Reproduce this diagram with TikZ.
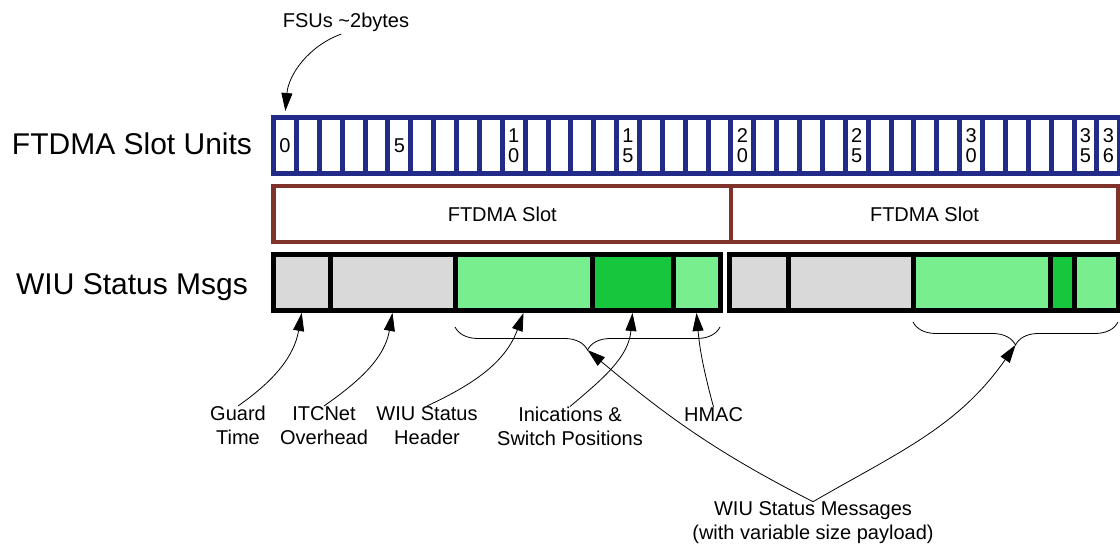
\documentclass[tikz,border=0pt]{standalone}
\usepackage{fontspec}
\setmainfont{Liberation Sans}
\usetikzlibrary{arrows.meta,decorations.pathreplacing}
\definecolor{SlotBlue}{RGB}{34,44,136}
\definecolor{SlotBrown}{RGB}{128,51,42}
\definecolor{MsgGray}{RGB}{217,217,217}
\definecolor{MsgGreen}{RGB}{120,238,143}
\definecolor{MsgDark}{RGB}{22,198,60}

\begin{document}
\begin{tikzpicture}[x=1pt,y=1pt,>={Triangle[length=18pt,width=11pt]},
unit/.style={draw=SlotBlue,line width=5pt,minimum width=22.87pt,minimum height=56pt,inner sep=0pt},
digit/.style={font=\fontsize{20}{20}\selectfont,align=center,inner sep=0pt},
slotbox/.style={draw=SlotBrown,line width=4.5pt,minimum height=56pt,inner sep=0pt,font=\fontsize{20}{24}\selectfont},
seg/.style={draw=black,line width=5pt,minimum height=56pt,inner sep=0pt},
lbl/.style={font=\fontsize{20}{24}\selectfont,align=center,inner sep=0pt,anchor=north},
rowlbl/.style={font=\fontsize{30}{36}\selectfont,inner sep=0pt,anchor=base},
arr/.style={->,line width=0.8pt},
brc/.style={decorate,decoration={brace,mirror,amplitude=23pt},line width=0.8pt}]
\useasboundingbox (0,0) rectangle (1120,548);
% slot units
\foreach \i in {0,...,36}
  \node[unit] (u\i) at ({285+22.87*\i},402.5) {};
\node[digit] (n0) at (u0) {0};
\node[digit] (n5) at (u5) {5};
\foreach \i/\a/\b in {10/1/0,15/1/5,20/2/0,25/2/5,30/3/0,35/3/5,36/3/6}
  \node[digit] (n\i) at (u\i) {\a\\\b};
% slots
\node[slotbox,minimum width=457.5pt] (slot1) at (502.25,334) {FTDMA Slot};
\node[slotbox,minimum width=387pt] (slot2) at (924.5,334) {FTDMA Slot};
% status messages
\foreach \n/\a/\b/\c in {gt1/273.5/330/MsgGray,oh1/330/455/MsgGray,hd1/455/592/MsgGreen,ind1/592/673/MsgDark,mac1/673/720/MsgGreen,
  gt2/729.5/788/MsgGray,oh2/788/913/MsgGray,hd2/913/1050/MsgGreen,ind2/1050/1074/MsgDark,mac2/1074/1118/MsgGreen}
  \node[seg,fill=\c,minimum width=\b-\a] (\n) at ({(\a+\b)/2},265.5) {};
\draw[brc] (455,221) -- (720,221);
\draw[brc] (913,226) -- (1118,226);
\coordinate (tip1) at (587.5,198);
\coordinate (tip2) at (1015.5,203);
% labels
\node[rowlbl] (units) at (132,393) {FTDMA Slot Units};
\node[rowlbl] (msgrow) at (132,253.7) {WIU Status Msgs};
\node[lbl] (fsu) at (346,534.7) {FSUs \textasciitilde2bytes};
\node[lbl] (guard) at (238,142) {Guard\\Time};
\node[lbl] (itc) at (324,142) {ITCNet\\Overhead};
\node[lbl] (hdr) at (427,142) {WIU Status\\Header};
\node[lbl] (ind) at (570,141.5) {Inications \&\\Switch Positions};
\node[lbl] (hmac) at (713.5,141) {HMAC};
\node[lbl] (msgs) at (813,46.3) {WIU Status Messages\\(with variable size payload)};
% arrows
\draw[arr,shorten <=5pt,shorten >=4pt] (fsu.south) to[out=200,in=85] (u0.north);
\draw[arr] (guard.north) to[out=35,in=-100] (gt1.south);
\draw[arr] (itc.north) to[out=35,in=-100] (oh1.south);
\draw[arr] (hdr.north) to[out=25,in=-110] (hd1.south);
\draw[arr] (ind.north) to[out=40,in=-95] (ind1.south);
\draw[arr] (hmac.north) to[out=105,in=-85] (mac1.south);
\draw[arr] (msgs.north) to[out=153,in=-40] (tip1);
\draw[arr] (msgs.north) to[out=30,in=-125] (tip2);
\end{tikzpicture}
\end{document}
